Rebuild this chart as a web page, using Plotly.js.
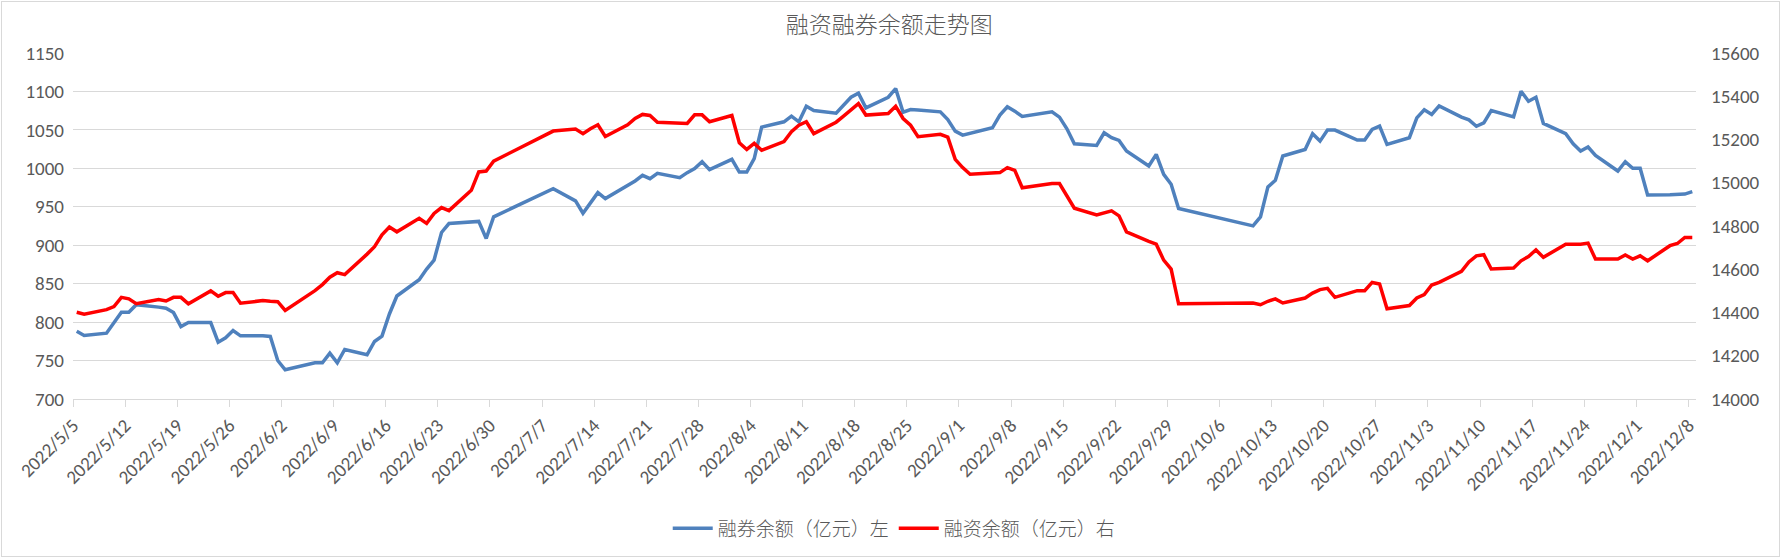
<!DOCTYPE html>
<html>
<head>
<meta charset="utf-8">
<script src="https://cdn.plot.ly/plotly-3.0.1.min.js"></script>
<style>
  html, body { margin: 0; padding: 0; background: #ffffff; }
  #wrap { position: relative; width: 1781px; height: 558px; }
  #chart { width: 1781px; height: 558px; }
  #frame { position: absolute; left: 1px; top: 1px; width: 1777px; height: 554px; border: 1px solid #d9d9d9; pointer-events: none; }
</style>
</head>
<body>
<div id="wrap"><div id="chart"></div><div id="frame"></div></div>
<script>
// Trading dates
const dates = [
  '2022-05-05','2022-05-06','2022-05-09','2022-05-10','2022-05-11','2022-05-12','2022-05-13',
  '2022-05-16','2022-05-17','2022-05-18','2022-05-19','2022-05-20',
  '2022-05-23','2022-05-24','2022-05-25','2022-05-26','2022-05-27',
  '2022-05-30','2022-05-31','2022-06-01','2022-06-02',
  '2022-06-06','2022-06-07','2022-06-08','2022-06-09','2022-06-10',
  '2022-06-13','2022-06-14','2022-06-15','2022-06-16','2022-06-17',
  '2022-06-20','2022-06-21','2022-06-22','2022-06-23','2022-06-24',
  '2022-06-27','2022-06-28','2022-06-29','2022-06-30',
  '2022-07-08',
  '2022-07-11','2022-07-12','2022-07-13','2022-07-14','2022-07-15',
  '2022-07-18','2022-07-19','2022-07-20','2022-07-21','2022-07-22',
  '2022-07-25','2022-07-26','2022-07-27','2022-07-28','2022-07-29',
  '2022-08-01','2022-08-02','2022-08-03','2022-08-04','2022-08-05',
  '2022-08-08','2022-08-09','2022-08-10','2022-08-11','2022-08-12',
  '2022-08-15','2022-08-16','2022-08-17','2022-08-18','2022-08-19',
  '2022-08-22','2022-08-23','2022-08-24','2022-08-25','2022-08-26',
  '2022-08-29','2022-08-30','2022-08-31','2022-09-01','2022-09-02',
  '2022-09-05','2022-09-06','2022-09-07','2022-09-08','2022-09-09',
  '2022-09-13','2022-09-14','2022-09-15','2022-09-16',
  '2022-09-19','2022-09-20','2022-09-21','2022-09-22','2022-09-23',
  '2022-09-26','2022-09-27','2022-09-28','2022-09-29','2022-09-30',
  '2022-10-10','2022-10-11','2022-10-12','2022-10-13','2022-10-14',
  '2022-10-17','2022-10-18','2022-10-19','2022-10-20','2022-10-21',
  '2022-10-24','2022-10-25','2022-10-26','2022-10-27','2022-10-28',
  '2022-10-31','2022-11-01','2022-11-02','2022-11-03','2022-11-04',
  '2022-11-07','2022-11-08','2022-11-09','2022-11-10','2022-11-11',
  '2022-11-14','2022-11-15','2022-11-16','2022-11-17','2022-11-18',
  '2022-11-21','2022-11-22','2022-11-23','2022-11-24','2022-11-25',
  '2022-11-28','2022-11-29','2022-11-30','2022-12-01','2022-12-02',
  '2022-12-05','2022-12-06','2022-12-07','2022-12-08'
];

// 融券余额（亿元） – left axis
const shortBalance = [
  788, 782.5, 785.6, 799, 812.8, 812.8, 822.7,
  819.5, 818, 812.4, 794.2, 799.4,
  799.4, 773.9, 779.5, 789, 782.1,
  782.1, 781.3, 750.1, 738,
  747.1, 747.1, 759.6, 747.1, 764.4,
  757.5, 774.8, 781.7, 810.6, 834,
  855.2, 869, 880.7, 916.6, 928.2,
  930, 931, 908.8, 936.9,
  973.6,
  957.6, 941.6, 955, 968.4, 960.7,
  978.4, 983.6, 990.9, 986.6, 993.5,
  987.9, 994.4, 999.6, 1008.6, 998.3,
  1011.7, 995.2, 995.2, 1012.5, 1053.6,
  1060.5, 1067.9, 1060.5, 1080.8, 1075.2,
  1071.8, 1082.1, 1092.5, 1097.7, 1078.7,
  1092.5, 1103.7, 1073, 1076.5, 1076,
  1073.5, 1063.5, 1048.4, 1043.2, 1045.6,
  1052.7, 1069.2, 1080, 1074.3, 1067.4,
  1073.5, 1066.6, 1051.4, 1032,
  1029.8, 1046.2, 1039.8, 1036.3, 1022.5,
  1003, 1018.1, 992.2, 979.2, 947.7,
  925.2, 936.9, 975.8, 984.4, 1016,
  1024.6, 1044.9, 1035.4, 1049.7, 1049.7,
  1036.7, 1036.7, 1050.6, 1054.9, 1031.1,
  1039.8, 1065.7, 1076.1, 1070, 1081.3,
  1066.6, 1063, 1054.7, 1059.2, 1075.2,
  1067, 1100.3, 1087.3, 1092.5, 1058.4,
  1045, 1032, 1022.5, 1027.7, 1016.9,
  996.5, 1008.6, 1000, 1000, 965.4,
  965.5, 966, 966.5, 969.7
];

// 融资余额（亿元） – right axis
const financeBalance = [
  14401, 14392, 14413, 14427, 14470, 14463, 14441,
  14460, 14453, 14470, 14470, 14440,
  14500, 14475, 14492, 14492, 14443,
  14455, 14452, 14450, 14410,
  14501, 14529, 14563, 14584, 14575,
  14670, 14704, 14759, 14795, 14773,
  14836, 14812, 14858, 14885, 14871,
  14965, 15050, 15054, 15100,
  15239,
  15248, 15227, 15250, 15268, 15214,
  15268, 15297, 15316, 15311, 15280,
  15275, 15274, 15314, 15314, 15282,
  15311, 15185, 15154, 15182, 15150,
  15190, 15236, 15266, 15282, 15227,
  15280, 15308, 15339, 15366, 15313,
  15320, 15354, 15297, 15266, 15213,
  15224, 15211, 15108, 15070, 15039,
  15045, 15047, 15070, 15057, 14977,
  14996, 14996, 14939, 14882,
  14851, 14862, 14870, 14847, 14773,
  14729, 14716, 14642, 14601, 14440,
  14444, 14436, 14452, 14463, 14444,
  14467, 14490, 14506, 14512, 14470,
  14501, 14501, 14539, 14532, 14417,
  14432, 14467, 14483, 14527, 14539,
  14590, 14634, 14662, 14667, 14601,
  14606, 14639, 14659, 14689, 14655,
  14716, 14716, 14716, 14721, 14647,
  14647, 14666, 14647, 14662, 14639,
  14709, 14719, 14747, 14747
];

// Weekly tick dates and labels
const tickDates = [
  '2022-05-05','2022-05-12','2022-05-19','2022-05-26','2022-06-02','2022-06-09','2022-06-16',
  '2022-06-23','2022-06-30','2022-07-07','2022-07-14','2022-07-21','2022-07-28','2022-08-04',
  '2022-08-11','2022-08-18','2022-08-25','2022-09-01','2022-09-08','2022-09-15','2022-09-22',
  '2022-09-29','2022-10-06','2022-10-13','2022-10-20','2022-10-27','2022-11-03','2022-11-10',
  '2022-11-17','2022-11-24','2022-12-01','2022-12-08'
];
const tickLabels = [
  '2022/5/5','2022/5/12','2022/5/19','2022/5/26','2022/6/2','2022/6/9','2022/6/16',
  '2022/6/23','2022/6/30','2022/7/7','2022/7/14','2022/7/21','2022/7/28','2022/8/4',
  '2022/8/11','2022/8/18','2022/8/25','2022/9/1','2022/9/8','2022/9/15','2022/9/22',
  '2022/9/29','2022/10/6','2022/10/13','2022/10/20','2022/10/27','2022/11/3','2022/11/10',
  '2022/11/17','2022/11/24','2022/12/1','2022/12/8'
];

const seriesNames = ['融券余额（亿元）左', '融资余额（亿元）右'];

// Points sit in the middle of each day slot (category-style date axis)
const xMid = dates.map(d => d + ' 12:00');

const numFont = "Carlito, 'Liberation Sans Narrow', 'DejaVu Sans Condensed', 'Liberation Sans', sans-serif";
const cjkFont = "'Noto Sans CJK SC', 'Noto Sans', sans-serif";
const textColor = '#595959';

const traces = [
  {
    x: xMid, y: shortBalance, name: seriesNames[0], type: 'scatter', mode: 'lines',
    line: { color: '#4F81BD', width: 3.5 }, yaxis: 'y', hoverinfo: 'skip'
  },
  {
    x: xMid, y: financeBalance, name: seriesNames[1], type: 'scatter', mode: 'lines',
    line: { color: '#FF0000', width: 3.5 }, yaxis: 'y2', hoverinfo: 'skip'
  }
];

const layout = {
  width: 1781, height: 558,
  paper_bgcolor: '#ffffff', plot_bgcolor: '#ffffff',
  margin: { l: 73, r: 85, t: 53, b: 158 },
  showlegend: true,
  title: {
    text: '融资融券余额走势图',
    font: { family: cjkFont, size: 23, color: textColor, weight: 300 },
    x: 0.503, xref: 'paper', xanchor: 'center',
    y: 0.955, yref: 'container', yanchor: 'middle'
  },
  xaxis: {
    type: 'date',
    range: ['2022-05-05 00:00', '2022-12-09 00:00'],
    tickmode: 'array', tickvals: tickDates, ticktext: tickLabels,
    tickangle: -45,
    tickfont: { family: numFont, size: 19, color: textColor },
    showgrid: false, zeroline: false,
    showline: true, linecolor: '#d9d9d9', linewidth: 1,
    ticks: 'outside', ticklen: 7, tickcolor: '#d9d9d9', tickwidth: 1
  },
  yaxis: {
    range: [700, 1150], dtick: 50, tick0: 700, tickformat: 'd',
    tickfont: { family: numFont, size: 19, color: textColor },
    showgrid: true, gridcolor: '#d9d9d9', gridwidth: 1,
    zeroline: false, showline: false, ticks: '',
    ticklabelstandoff: 8
  },
  yaxis2: {
    range: [14000, 15600], dtick: 200, tick0: 14000, tickformat: 'd',
    overlaying: 'y', side: 'right',
    tickfont: { family: numFont, size: 19, color: textColor },
    showgrid: false, zeroline: false, showline: false, ticks: '',
    ticklabelstandoff: 14
  },
  legend: {
    orientation: 'h', x: 0.506, xanchor: 'center', y: -0.37, yanchor: 'middle',
    font: { family: cjkFont, size: 19, color: textColor, weight: 300 },
    bgcolor: 'rgba(0,0,0,0)', itemwidth: 40, tracegroupgap: 0
  }
};

Plotly.newPlot('chart', traces, layout, { staticPlot: true, displayModeBar: false });
</script>
</body>
</html>
